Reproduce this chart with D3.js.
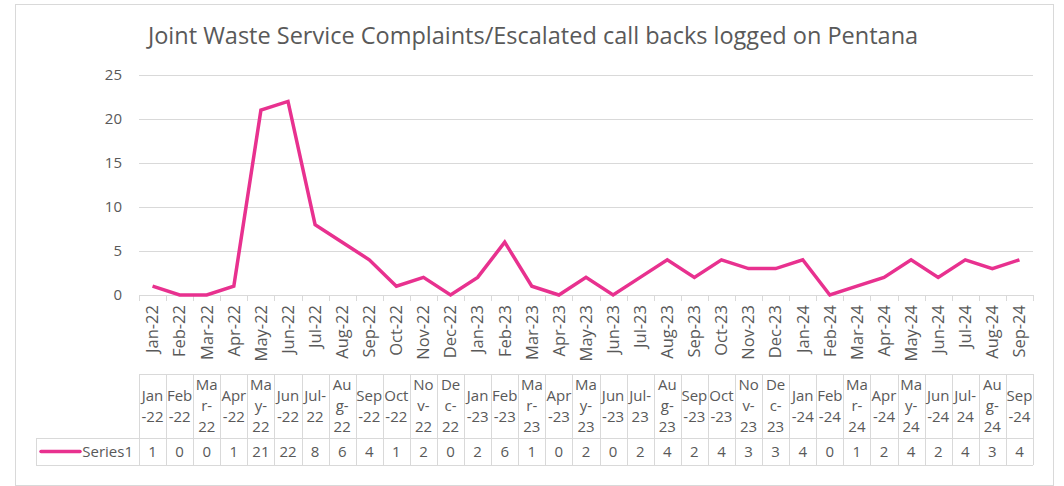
<!DOCTYPE html>
<html>
<head>
<meta charset="utf-8">
<script src="https://cdn.jsdelivr.net/npm/d3@7"></script>
<style>
  body { margin: 0; background: #fff; }
  svg { display: block; font-family: "Open Sans", Lato, sans-serif; }
</style>
</head>
<body>
<svg width="1064" height="486"></svg>
<script>
// data
var months = ["Jan-22","Feb-22","Mar-22","Apr-22","May-22","Jun-22","Jul-22","Aug-22","Sep-22","Oct-22","Nov-22","Dec-22",
              "Jan-23","Feb-23","Mar-23","Apr-23","May-23","Jun-23","Jul-23","Aug-23","Sep-23","Oct-23","Nov-23","Dec-23",
              "Jan-24","Feb-24","Mar-24","Apr-24","May-24","Jun-24","Jul-24","Aug-24","Sep-24"];
var series1 = [1,0,0,1,21,22,8,6,4,1,2,0,
               2,6,1,0,2,0,2,4,2,4,3,3,
               4,0,1,2,4,2,4,3,4];
var yTicks = [0,5,10,15,20,25];
var seriesName = "Series1";
var title = "Joint Waste Service Complaints/Escalated call backs logged on Pentana";

const textCol = "#595959";
const gridCol = "#d9d9d9";
const lineCol = "#e8318f";

const svg = d3.select("svg");

// outer chart border
svg.append("rect")
    .attr("x", 15.5).attr("y", 4.5)
    .attr("width", 1038).attr("height", 481)
    .attr("fill", "#fff")
    .attr("stroke", gridCol);

const x = d3.scaleBand().domain(months).range([139, 1033]).padding(0);
const y = d3.scaleLinear().domain([0, 25]).range([295, 75]);

svg.append("text")
    .attr("x", 533).attr("y", 44)
    .attr("text-anchor", "middle")
    .attr("font-size", 23.5)
    .attr("fill", textCol)
    .text(title);

// gridlines
svg.append("g")
  .selectAll("line")
  .data(yTicks)
  .join("line")
    .attr("x1", 139).attr("x2", 1033)
    .attr("y1", d => Math.round(y(d)) + 0.5)
    .attr("y2", d => Math.round(y(d)) + 0.5)
    .attr("stroke", gridCol)
    .attr("stroke-width", 1);

// y labels
svg.append("g")
  .selectAll("text")
  .data(yTicks)
  .join("text")
    .attr("x", 122)
    .attr("y", d => y(d))
    .attr("dy", "0.35em")
    .attr("text-anchor", "end")
    .attr("font-size", 15)
    .attr("fill", textCol)
    .text(d => d);

// tick marks at band edges
var edges = months.map(m => x(m)).concat([x.range()[1]]);
svg.append("g")
  .selectAll("line")
  .data(edges)
  .join("line")
    .attr("x1", d => Math.round(d) + 0.5).attr("x2", d => Math.round(d) + 0.5)
    .attr("y1", 295).attr("y2", 301)
    .attr("stroke", gridCol);

// rotated x labels
svg.append("g")
  .selectAll("text")
  .data(months)
  .join("text")
    .attr("transform", d => `translate(${x(d) + x.bandwidth() / 2},305) rotate(-90)`)
    .attr("dy", "0.35em")
    .attr("text-anchor", "end")
    .attr("font-size", 16.5)
    .attr("fill", textCol)
    .text(d => d);

// the line
const line = d3.line()
    .x((d, i) => x(months[i]) + x.bandwidth() / 2)
    .y(d => y(d));

svg.append("path")
    .datum(series1)
    .attr("fill", "none")
    .attr("stroke", lineCol)
    .attr("stroke-width", 3.5)
    .attr("stroke-linejoin", "miter")
    .attr("d", line);

// data table
const hTop = 374, hBot = 438, dBot = 465, legL = 36;

const tbl = svg.append("g").attr("stroke", gridCol).attr("stroke-width", 1);
tbl.append("line").attr("x1", 139).attr("x2", 1033).attr("y1", hTop + 0.5).attr("y2", hTop + 0.5);
tbl.append("line").attr("x1", legL).attr("x2", 1033).attr("y1", hBot + 0.5).attr("y2", hBot + 0.5);
tbl.append("line").attr("x1", legL).attr("x2", 1033).attr("y1", dBot + 0.5).attr("y2", dBot + 0.5);
tbl.append("line").attr("x1", legL + 0.5).attr("x2", legL + 0.5).attr("y1", hBot).attr("y2", dBot);
tbl.selectAll(".v")
  .data(edges)
  .join("line")
    .attr("x1", d => Math.round(d) + 0.5).attr("x2", d => Math.round(d) + 0.5)
    .attr("y1", hTop).attr("y2", dBot);

// header cells wrap like the narrow Excel columns
function wrapLabel(lbl) {
  var m = lbl.slice(0, 3), yy = lbl.slice(4);
  if (["Mar","May","Aug","Nov","Dec"].includes(m)) return [m.slice(0, 2), m[2] + "-", yy];
  if (m === "Jul") return ["Jul-", yy];
  return [m, "-" + yy];
}

const lh = 21;
const head = svg.append("g")
    .attr("font-size", 15)
    .attr("fill", textCol)
    .attr("text-anchor", "middle");
months.forEach(function(m) {
  var lines = wrapLabel(m);
  var cy = (hTop + hBot) / 2 - (lines.length - 1) * lh / 2;
  lines.forEach(function(t, k) {
    head.append("text")
        .attr("x", x(m) + x.bandwidth() / 2)
        .attr("y", cy + k * lh)
        .attr("dy", "0.35em")
        .text(t);
  });
});

// values row
svg.append("g")
  .selectAll("text")
  .data(series1)
  .join("text")
    .attr("x", (d, i) => x(months[i]) + x.bandwidth() / 2)
    .attr("y", (hBot + dBot) / 2)
    .attr("dy", "0.35em")
    .attr("text-anchor", "middle")
    .attr("font-size", 15)
    .attr("fill", textCol)
    .text(d => d);

// legend key in table
svg.append("line")
    .attr("x1", 41).attr("x2", 80)
    .attr("y1", (hBot + dBot) / 2).attr("y2", (hBot + dBot) / 2)
    .attr("stroke", lineCol)
    .attr("stroke-width", 3.5)
    .attr("stroke-linecap", "round");
svg.append("text")
    .attr("x", 133).attr("y", (hBot + dBot) / 2)
    .attr("dy", "0.35em")
    .attr("text-anchor", "end")
    .attr("font-size", 15)
    .attr("fill", textCol)
    .text(seriesName);
</script>
</body>
</html>
